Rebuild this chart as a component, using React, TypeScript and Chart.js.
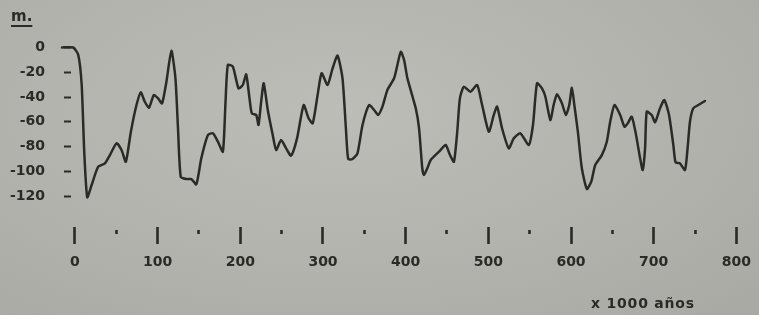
import React, { useEffect, useRef } from "react";
import { Chart, registerables } from "chart.js";

Chart.register(...registerables);

// time in thousands of years, sea level in metres
const YEARS_K = [
  -15.7, -2.1, 4.0, 8.1, 11.2, 14.8, 20.1, 28.1, 36.2, 42.2, 50.3, 56.3, 61.5, 67.6, 74.4, 79.6, 84.4, 89.6, 95.3,
  100.5, 105.3, 110.6, 116.6, 121.5, 124.6, 127.9, 134.7, 140.8, 146.8, 152.8, 160.8, 166.8, 172.9, 178.9, 182.1,
  184.9, 191.0, 197.8, 203.0, 207.1, 211.1, 213.9, 219.2, 222.0, 225.2, 228.3, 233.2, 239.2, 243.3, 249.3, 255.4,
  261.4, 268.6, 276.6, 282.6, 287.5, 293.5, 298.3, 305.5, 311.6, 317.6, 323.6, 327.7, 330.5, 335.7, 341.7, 347.8,
  355.8, 361.9, 366.7, 371.9, 377.9, 386.0, 390.0, 394.1, 398.1, 402.1, 412.2, 416.2, 420.1, 422.2, 426.2, 430.3,
  440.3, 448.4, 453.6, 458.4, 462.4, 465.6, 470.4, 478.5, 486.5, 492.5, 500.6, 506.6, 510.6, 516.6, 524.7, 530.8,
  538.8, 548.9, 554.0, 558.9, 564.9, 569.0, 575.0, 579.0, 583.0, 589.0, 593.8, 597.9, 601.1, 604.3, 608.3, 613.1,
  619.2, 624.5, 629.3, 637.3, 643.3, 647.4, 652.6, 659.5, 664.7, 668.6, 673.5, 678.3, 683.6, 686.7, 689.6, 691.6,
  697.6, 701.7, 707.7, 712.9, 718.6, 723.8, 726.5, 731.8, 737.9, 741.0, 743.9, 747.9, 754.0, 762.0,
];

const SEA_LEVEL_M = [
  0, 0, -6.1, -30.3, -84.2, -121.0, -111.1, -96.3, -93.6, -86.9, -77.4, -82.8, -92.3, -68.0, -46.5, -36.2, -43.8,
  -48.6, -38.4, -41.1, -45.1, -27.6, -2.6, -24.9, -65.3, -104.4, -106.3, -106.3, -110.5, -89.5, -70.7, -69.3, -76.1,
  -84.2, -43.8, -14.1, -15.5, -33.0, -30.3, -21.7, -41.1, -53.2, -54.5, -62.6, -43.8, -28.9, -50.5, -70.7, -82.8,
  -74.7, -81.5, -87.4, -73.4, -46.5, -57.2, -61.3, -38.4, -20.8, -30.3, -16.8, -6.6, -24.9, -65.3, -90.1, -90.1,
  -85.5, -62.6, -46.5, -50.5, -54.5, -47.8, -34.3, -24.9, -14.1, -3.4, -10.1, -24.9, -49.1, -65.3, -97.6, -103.0,
  -97.6, -90.9, -84.2, -78.8, -86.9, -92.3, -68.0, -41.1, -31.7, -35.7, -30.3, -46.5, -68.0, -54.5, -47.8, -65.3,
  -81.5, -73.4, -69.3, -78.8, -62.6, -28.9, -33.0, -39.8, -58.6, -46.5, -37.8, -45.1, -54.5, -46.5, -32.5, -47.8,
  -68.0, -97.6, -114.3, -108.4, -94.9, -86.9, -76.1, -60.0, -46.5, -54.5, -64.0, -61.3, -55.9, -69.3, -89.5, -99.0,
  -81.5, -51.9, -54.5, -60.4, -49.1, -42.4, -54.5, -78.8, -92.8, -93.6, -99.0, -81.5, -60.0, -49.1, -46.5, -43.2,
];

const X_TICKS = [0, 50, 100, 150, 200, 250, 300, 350, 400, 450, 500, 550, 600, 650, 700, 750, 800];
const X_LABELED = [0, 100, 200, 300, 400, 500, 600, 700, 800];
const Y_TICKS = [-120, -100, -80, -60, -40, -20, 0];

const INK = "#2a2a28";

export default function App() {
  const ref = useRef<HTMLCanvasElement | null>(null);

  useEffect(() => {
    if (!ref.current) return;
    const chart = new Chart(ref.current, {
      type: "line",
      data: {
        datasets: [
          {
            data: YEARS_K.map((x, i) => ({ x, y: SEA_LEVEL_M[i] })),
            borderColor: INK,
            borderWidth: 2.5,
            pointRadius: 0,
            tension: 0.2,
            fill: false,
            clip: false as any,
            borderJoinStyle: "round",
            borderCapStyle: "round",
          },
        ],
      },
      options: {
        responsive: false,
        animation: false,
        layout: { padding: { left: 0, right: 19, top: 47.5, bottom: 0 } },
        plugins: { legend: { display: false }, tooltip: { enabled: false }, title: { display: false } },
        scales: {
          x: {
            type: "linear",
            min: -3.62,
            max: 802.2,
            border: { display: false },
            grid: {
              display: true,
              drawOnChartArea: false,
              drawTicks: true,
              tickLength: 20,
              tickColor: INK,
              tickWidth: 2.6,
              tickBorderDash: (ctx: any) =>
                X_LABELED.includes(ctx.tick?.value) ? [0, 1, 17, 60] : [0, 4, 4, 60],
            } as any,
            afterBuildTicks: (s: any) => {
              s.ticks = X_TICKS.map((v) => ({ value: v }));
            },
            afterFit: (s: any) => {
              s.height = 89;
            },
            ticks: {
              autoSkip: false,
              maxRotation: 0,
              padding: 8,
              color: INK,
              font: { family: "DejaVu Sans", size: 14, weight: "bold" },
              callback: (v: any) => (X_LABELED.includes(Number(v)) ? String(v) : ""),
            },
          },
          y: {
            type: "linear",
            min: -144.2,
            max: 0,
            border: { display: false },
            grid: {
              display: true,
              drawOnChartArea: false,
              drawTicks: true,
              tickLength: 10,
              tickColor: INK,
              tickWidth: 2.2,
              tickBorderDash: [0, 2, 7, 60],
            } as any,
            afterBuildTicks: (s: any) => {
              s.ticks = Y_TICKS.map((v) => ({ value: v }));
            },
            afterFit: (s: any) => {
              s.width = 72;
            },
            ticks: {
              padding: 17,
              color: INK,
              font: { family: "DejaVu Sans", size: 14, weight: "bold" },
              callback: (v: any) => String(v),
            },
          },
        },
      },
    });
    return () => chart.destroy();
  }, []);

  return (
    <div
      style={{
        position: "absolute",
        left: 0,
        top: 0,
        width: 759,
        height: 315,
        overflow: "hidden",
        background: "radial-gradient(ellipse at 45% 35%, #bdbdb7 0%, #b3b3ad 55%, #a9a9a3 100%)",
      }}
    >
      <canvas ref={ref} width={759} height={315} style={{ position: "absolute", left: 0, top: 0 }} />
      <div
        style={{
          position: "absolute",
          left: 11,
          top: 7,
          fontFamily: "DejaVu Sans",
          fontWeight: "bold",
          fontSize: 15,
          color: INK,
          textDecoration: "underline",
          textDecorationThickness: 2,
          textUnderlineOffset: 4,
        }}
      >
        m.
      </div>
      <div
        style={{
          position: "absolute",
          left: 591,
          top: 295,
          fontFamily: "DejaVu Sans",
          fontWeight: "bold",
          fontSize: 14,
          letterSpacing: 0.8,
          lineHeight: "16px",
          color: INK,
          whiteSpace: "nowrap",
        }}
      >
        x 1000 años
      </div>
    </div>
  );
}
